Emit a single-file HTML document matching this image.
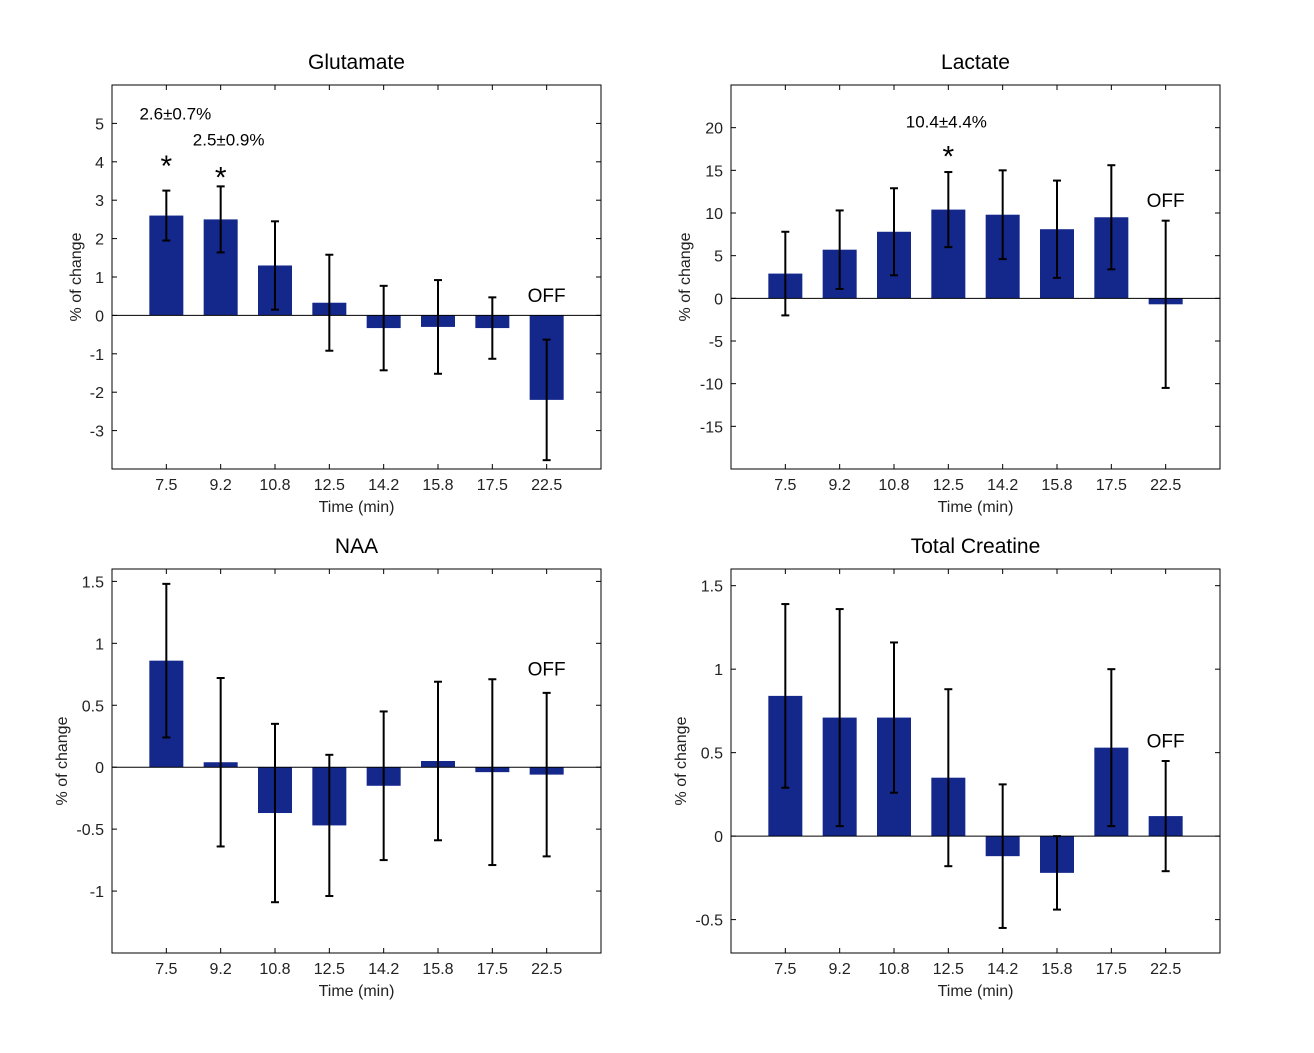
<!DOCTYPE html>
<html><head><meta charset="utf-8">
<style>
html,body{margin:0;padding:0;background:#fff;}
svg{display:block;font-family:"Liberation Sans",Arial,sans-serif;}
</style></head>
<body>
<svg id="fig" width="1314" height="1053" viewBox="0 0 1314 1053" xmlns="http://www.w3.org/2000/svg"></svg>
<script>
const categories = ["7.5","9.2","10.8","12.5","14.2","15.8","17.5","22.5"];
const gluValues = [2.6, 2.5, 1.3, 0.33, -0.33, -0.3, -0.33, -2.2];
const gluErrors = [0.65, 0.86, 1.15, 1.25, 1.1, 1.22, 0.8, 1.57];
const gluTicks = [-3,-2,-1,0,1,2,3,4,5];
const lacValues = [2.9, 5.7, 7.8, 10.4, 9.8, 8.1, 9.5, -0.7];
const lacErrors = [4.9, 4.6, 5.1, 4.4, 5.2, 5.7, 6.1, 9.8];
const lacTicks = [-15,-10,-5,0,5,10,15,20];
const naaValues = [0.86, 0.04, -0.37, -0.47, -0.15, 0.05, -0.04, -0.06];
const naaErrors = [0.62, 0.68, 0.72, 0.57, 0.6, 0.64, 0.75, 0.66];
const naaTicks = [-1,-0.5,0,0.5,1,1.5];
const crValues = [0.84, 0.71, 0.71, 0.35, -0.12, -0.22, 0.53, 0.12];
const crErrors = [0.55, 0.65, 0.45, 0.53, 0.43, 0.22, 0.47, 0.33];
const crTicks = [-0.5,0,0.5,1,1.5];

const NS = "http://www.w3.org/2000/svg";
const svg = document.getElementById('fig');
function mk(tag, attrs, parent, text){
  const e = document.createElementNS(NS, tag);
  for (const k in attrs) e.setAttribute(k, attrs[k]);
  if (text !== undefined) e.textContent = text;
  (parent||svg).appendChild(e);
  return e;
}

function panel(cfg){
  const g = mk('g', {});
  
  
  const L = cfg.x0, R = cfg.x0 + 489, T = cfg.y0, B = cfg.y0 + 384;
  const xs = i => L + (i + 1) * (R - L) / 9;
  const ys = v => B - (v - cfg.ymin) / (cfg.ymax - cfg.ymin) * (B - T);
  const bw = 34;
  const t = mk('text', {x: (L+R)/2, y: T - 16, 'text-anchor':'middle', 'font-size':21, fill:'#000'}, g, cfg.title);
  
  
  cfg.values.forEach((v, i) => {
    const y0 = ys(0), y1 = ys(v);
    const r = mk('rect', {x: xs(i) - bw/2, y: Math.min(y0,y1), width: bw, height: Math.abs(y1-y0), fill:'#14288c'}, g);
    
    
  });
  mk('line', {x1:L, x2:R, y1:ys(0), y2:ys(0), stroke:'#000', 'stroke-width':1}, g);
  cfg.values.forEach((v, i) => {
    const eg = mk('g', {stroke:'#000','stroke-width':2}, g);
    
    
    const yt = ys(v + cfg.errors[i]), yb = ys(v - cfg.errors[i]), x = xs(i);
    mk('line', {x1:x, x2:x, y1:yt, y2:yb}, eg);
    mk('line', {x1:x-4, x2:x+4, y1:yt, y2:yt}, eg);
    mk('line', {x1:x-4, x2:x+4, y1:yb, y2:yb}, eg);
  });
  const box = mk('rect', {x:L, y:T, width:R-L, height:B-T, fill:'none', stroke:'#000', 'stroke-width':1}, g);
  
  
  cfg.ticks.forEach(v => {
    const y = ys(v);
    mk('line', {x1:L, x2:L+5, y1:y, y2:y, stroke:'#000'}, g);
    mk('line', {x1:R, x2:R-5, y1:y, y2:y, stroke:'#000'}, g);
    const tl = mk('text', {x:L-8, y:y+6, 'text-anchor':'end', 'font-size':16, fill:'#222'}, g, String(v));
    
    
  });
  categories.forEach((c, i) => {
    const x = xs(i);
    mk('line', {x1:x, x2:x, y1:B, y2:B-5, stroke:'#000'}, g);
    mk('line', {x1:x, x2:x, y1:T, y2:T+5, stroke:'#000'}, g);
    const tl = mk('text', {x:x, y:B+21, 'text-anchor':'middle', 'font-size':16, fill:'#222'}, g, c);
    
    
  });
  const xl = mk('text', {x:(L+R)/2, y:B+43, 'text-anchor':'middle', 'font-size':16, fill:'#222'}, g, 'Time (min)');
  
  
  const yl = mk('text', {x:0, y:0, 'text-anchor':'middle', 'font-size':16, fill:'#222',
    transform:'translate(' + cfg.ylx + ',' + ((T+B)/2) + ') rotate(-90)'}, g, '% of change');
  
  
  const off = mk('text', {x: xs(7), y: ys(cfg.offY), 'text-anchor':'middle', 'font-size':19, fill:'#000'}, g, 'OFF');
  
  
  (cfg.notes||[]).forEach(n => {
    const a = mk('text', {x: xs(n.i) + (n.dx||0), y: ys(n.v), 'text-anchor':'middle', 'font-size':17, fill:'#000'}, g, n.text);
    
    
    const s = mk('text', {x: xs(n.i), y: ys(n.sv) + 14, 'text-anchor':'middle', 'font-size':30, fill:'#000'}, g, '*');
    
    
  });
}

panel({name:'glutamate', title:'Glutamate', x0:112, y0:85, ymin:-4, ymax:6, values:gluValues, errors:gluErrors, ticks:gluTicks, ylx:81, offY:0.35,
  notes:[{i:0, v:5.1, text:'2.6\u00b10.7%', dx:9, sv:4.0},{i:1, v:4.42, text:'2.5\u00b10.9%', dx:8, sv:3.7}]});
panel({name:'lactate', title:'Lactate', x0:731, y0:85, ymin:-20, ymax:25, values:lacValues, errors:lacErrors, ticks:lacTicks, ylx:690, offY:10.7,
  notes:[{i:3, v:20.0, text:'10.4\u00b14.4%', dx:-2, sv:17.1}]});
panel({name:'naa', title:'NAA', x0:112, y0:569, ymin:-1.5, ymax:1.6, values:naaValues, errors:naaErrors, ticks:naaTicks, ylx:67, offY:0.74});
panel({name:'total-creatine', title:'Total Creatine', x0:731, y0:569, ymin:-0.7, ymax:1.6, values:crValues, errors:crErrors, ticks:crTicks, ylx:686, offY:0.53});
</script>
</body></html>
